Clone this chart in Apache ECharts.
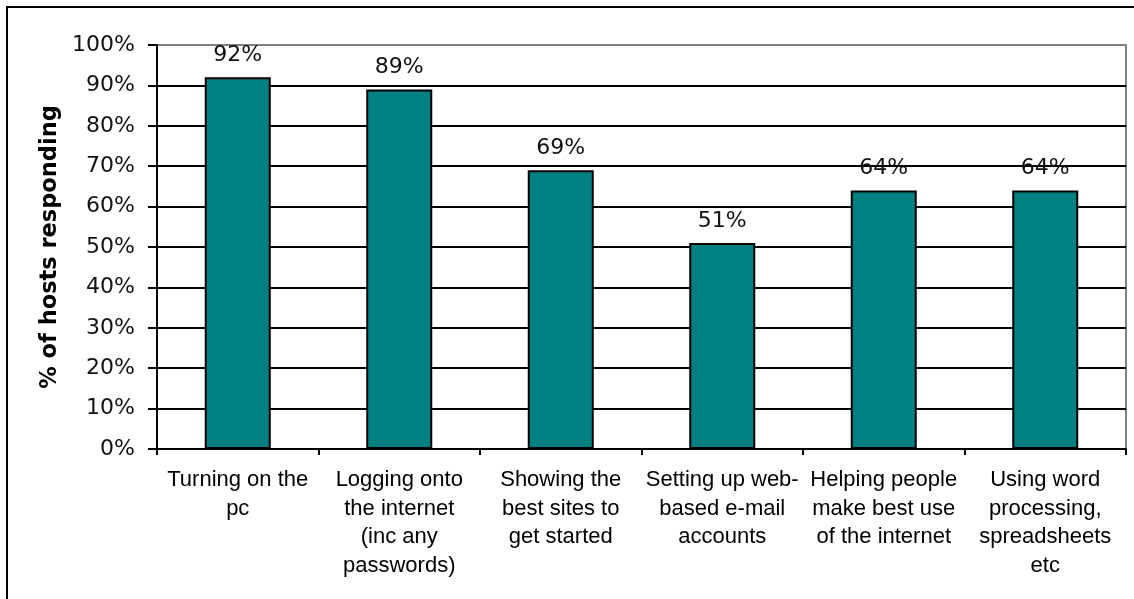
<!DOCTYPE html>
<html>
<head>
<meta charset="utf-8">
<style>
  html, body { margin: 0; padding: 0; background: #fff; }
  #chart { width: 1134px; height: 599px; }
</style>
<script src="https://cdn.jsdelivr.net/npm/echarts@6/dist/echarts.min.js"></script>
</head>
<body>
<div id="chart"></div>
<script>
// Tasks hosts helped with, share of hosts responding (%)
const categories = [
  'Turning on the\npc',
  'Logging onto\nthe internet\n(inc any\npasswords)',
  'Showing the\nbest sites to\nget started',
  'Setting up web-\nbased e-mail\naccounts',
  'Helping people\nmake best use\nof the internet',
  'Using word\nprocessing,\nspreadsheets\netc'
];
const values = [92, 89, 69, 51, 64, 64];
const yTicks = { min: 0, max: 100, interval: 10 };
const yTitle = '% of hosts responding';

// gridlines black, the 100% line grey like the plot frame
const gridColors = [];
for (let v = yTicks.min; v <= yTicks.max; v += yTicks.interval) {
  gridColors.push(v === yTicks.max ? '#808080' : '#000000');
}

const chart = echarts.init(document.getElementById('chart'), null, { renderer: 'canvas' });
chart.setOption({
  backgroundColor: '#ffffff',
  animation: false,
  graphic: [{
    type: 'rect',
    z: 0,
    shape: { x: 7, y: 7, width: 1160, height: 640 },
    style: { fill: 'none', stroke: '#000000', lineWidth: 2 }
  }],
  grid: {
    left: 157, right: 8, top: 45, bottom: 150,
    show: true, borderColor: '#808080', borderWidth: 2, backgroundColor: 'transparent'
  },
  xAxis: {
    type: 'category',
    data: categories,
    axisLine: { lineStyle: { color: '#000', width: 2 } },
    axisTick: { show: true, length: 6, lineStyle: { color: '#000', width: 2 } },
    axisLabel: {
      interval: 0,
      margin: 17,
      color: '#000',
      fontFamily: 'Liberation Sans',
      fontSize: 22,
      lineHeight: 28.5,
      align: 'center'
    },
    splitLine: { show: false }
  },
  yAxis: {
    type: 'value',
    min: yTicks.min,
    max: yTicks.max,
    interval: yTicks.interval,
    name: yTitle,
    nameLocation: 'middle',
    nameGap: 95,
    nameRotate: 90,
    nameTextStyle: {
      color: '#000',
      fontFamily: 'DejaVu Sans',
      fontWeight: 'bold',
      fontSize: 22.5
    },
    axisLine: { show: true, lineStyle: { color: '#000', width: 2 } },
    axisTick: { show: true, length: 9, lineStyle: { color: '#000', width: 2 } },
    axisLabel: {
      margin: 22,
      color: '#111',
      fontFamily: 'DejaVu Sans',
      fontSize: 22,
      formatter: '{value}%'
    },
    splitLine: { show: true, lineStyle: { color: gridColors, width: 2 } }
  },
  series: [{
    type: 'bar',
    data: values,
    barWidth: 66,
    itemStyle: { color: '#008080', borderColor: '#000', borderWidth: 2 },
    label: {
      show: true,
      position: 'top',
      distance: 11,
      color: '#111',
      fontFamily: 'DejaVu Sans',
      fontSize: 22,
      formatter: '{c}%'
    }
  }]
});
</script>
</body>
</html>
